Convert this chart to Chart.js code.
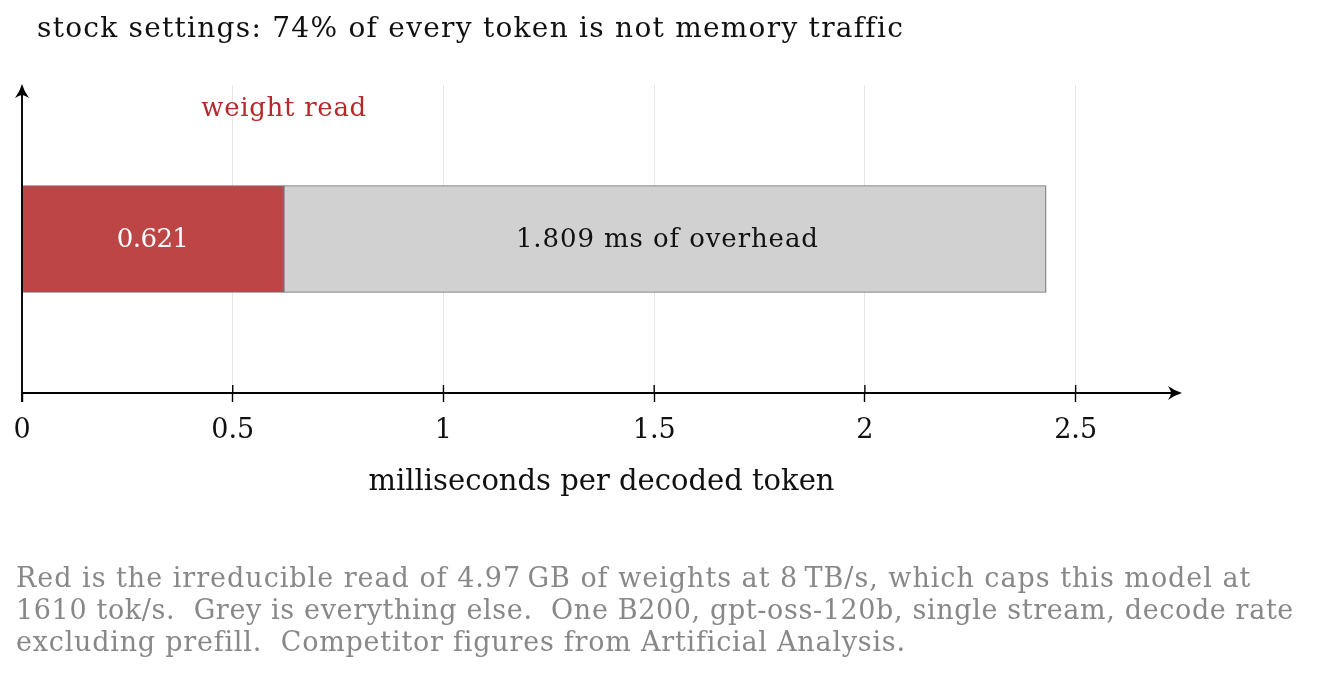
<!DOCTYPE html>
<html>
<head>
<meta charset="utf-8">
<script src="https://cdn.jsdelivr.net/npm/chart.js@4.4.1/dist/chart.umd.min.js"></script>
<style>
  html, body { margin: 0; padding: 0; background: #fff; }
  #wrap { position: relative; width: 1328px; height: 674px; overflow: hidden; }
  #chart { position: absolute; left: 0; top: 0; }
  .title { position: absolute; left: 37px; top: 11px; font: 28px "DejaVu Serif", serif; color: #111; white-space: nowrap; }
  .note { position: absolute; left: 16px; top: 562px; font: 27px/32px "DejaVu Serif", serif; color: #888; white-space: nowrap; }
  .note span, .title span { display: inline-block; }
</style>
</head>
<body>
<div id="wrap">
  <canvas id="chart" width="1328" height="674"></canvas>
  <div class="title"><span data-w="865">stock settings: 74% of every token is not memory traffic</span></div>
  <div class="note">
    <span data-w="1234">Red is the irreducible read of 4.97&#8201;GB of weights at 8&#8201;TB/s, which caps this model at</span><br>
    <span data-w="1277">1610 tok/s.&nbsp; Grey is everything else.&nbsp; One B200, gpt-oss-120b, single stream, decode rate</span><br>
    <span data-w="887">excluding prefill.&nbsp; Competitor figures from Artificial Analysis.</span>
  </div>
</div>
<script>
const categories = ['stock'];
const weightRead = [0.621];
const overhead = [1.809];
const tickValues = [0, 0.5, 1, 1.5, 2, 2.5];
const axisMax = 2.75;

const FONT = '"DejaVu Serif", serif';

// the reference typeface is wider than anything installed, so stretch with letter spacing
document.querySelectorAll('span[data-w]').forEach(el => {
  const w = el.getBoundingClientRect().width;
  const n = el.textContent.length - 1;
  el.style.letterSpacing = ((+el.dataset.w - w) / n).toFixed(2) + 'px';
});

function fitText(ctx, text, x, y, target) {
  ctx.letterSpacing = '0px';
  const w = ctx.measureText(text).width;
  const sp = (target - w) / (text.length - 1);
  ctx.letterSpacing = sp.toFixed(2) + 'px';
  ctx.fillText(text, x + sp / 2, y);
  ctx.letterSpacing = '0px';
}

// arrows on both axes, tick marks crossing the axis, and the text on the bars
const decor = {
  id: 'decor',
  afterDatasetsDraw(chart) {
    const { ctx, chartArea: a, scales: { x, y } } = chart;
    ctx.save();
    ctx.strokeStyle = '#000';
    ctx.fillStyle = '#000';
    ctx.lineWidth = 1.9;
    // x axis
    const tx = a.right + 1, ty = a.bottom;
    ctx.beginPath();
    ctx.moveTo(a.left, ty);
    ctx.lineTo(tx - 8, ty);
    ctx.stroke();
    ctx.beginPath();
    ctx.moveTo(tx, ty);
    ctx.quadraticCurveTo(tx - 7, ty - 2, tx - 14, ty - 7);
    ctx.quadraticCurveTo(tx - 11, ty - 2, tx - 11, ty);
    ctx.quadraticCurveTo(tx - 11, ty + 2, tx - 14, ty + 7);
    ctx.quadraticCurveTo(tx - 7, ty + 2, tx, ty);
    ctx.closePath();
    ctx.fill();
    // y axis
    const ux = a.left, uy = a.top - 1;
    ctx.beginPath();
    ctx.moveTo(ux, a.bottom + 9);
    ctx.lineTo(ux, uy + 8);
    ctx.stroke();
    ctx.beginPath();
    ctx.moveTo(ux, uy);
    ctx.quadraticCurveTo(ux - 2, uy + 7, ux - 7, uy + 14);
    ctx.quadraticCurveTo(ux - 2, uy + 11, ux, uy + 11);
    ctx.quadraticCurveTo(ux + 2, uy + 11, ux + 7, uy + 14);
    ctx.quadraticCurveTo(ux + 2, uy + 7, ux, uy);
    ctx.closePath();
    ctx.fill();
    // upper half of the tick marks
    ctx.lineWidth = 1.4;
    tickValues.forEach(v => {
      if (v === 0) return;
      const px = x.getPixelForValue(v);
      ctx.beginPath();
      ctx.moveTo(px, a.bottom - 8);
      ctx.lineTo(px, a.bottom);
      ctx.stroke();
    });

    // bar labels
    const yc = y.getPixelForValue(0);
    ctx.font = '26px ' + FONT;
    ctx.textAlign = 'center';
    ctx.textBaseline = 'middle';
    ctx.fillStyle = '#fff';
    fitText(ctx, weightRead[0].toFixed(3), x.getPixelForValue(weightRead[0] / 2), yc + 1, 72);
    ctx.fillStyle = '#111';
    fitText(ctx, overhead[0].toFixed(3) + ' ms of overhead',
      x.getPixelForValue(weightRead[0] + overhead[0] / 2) + 2, yc + 1, 302);

    // series name above the red segment
    ctx.fillStyle = '#b5292b';
    fitText(ctx, 'weight read', x.getPixelForValue(weightRead[0]), a.top + 24, 165);
    ctx.restore();
  }
};

new Chart(document.getElementById('chart'), {
  type: 'bar',
  data: {
    labels: categories,
    datasets: [
      {
        label: 'weight read',
        data: weightRead,
        backgroundColor: '#bd4545',
        borderColor: '#727272',
        borderWidth: 1.2,
        borderSkipped: false,
        barThickness: 107
      },
      {
        label: 'overhead',
        data: overhead,
        backgroundColor: '#d1d1d1',
        borderColor: '#727272',
        borderWidth: 1.2,
        borderSkipped: false,
        barThickness: 107
      }
    ]
  },
  options: {
    indexAxis: 'y',
    responsive: false,
    animation: false,
    events: [],
    layout: { padding: { left: 22, right: 147, top: 85, bottom: 174 } },
    scales: {
      x: {
        stacked: true,
        min: 0,
        max: axisMax,
        afterBuildTicks: (s) => { s.ticks = tickValues.map(v => ({ value: v })); },
        afterFit: (s) => { s.height = 107; },
        border: { display: false },
        grid: {
          color: (c) => (c.tick && c.tick.value === 0 ? 'rgba(0,0,0,0)' : '#e6e6e6'),
          tickColor: '#000',
          tickLength: 9,
          tickWidth: 1.4,
          lineWidth: 1,
          drawTicks: true
        },
        ticks: {
          color: '#111',
          font: { family: FONT, size: 27 },
          padding: 13,
          maxRotation: 0,
          callback: (v) => String(v)
        },
        title: {
          display: true,
          text: 'milliseconds per decoded token',
          color: '#111',
          font: { family: FONT, size: 29 },
          padding: { top: 0, bottom: 0 }
        }
      },
      y: {
        stacked: true,
        display: false
      }
    },
    plugins: {
      legend: { display: false },
      tooltip: { enabled: false },
      title: { display: false }
    }
  },
  plugins: [decor]
});
</script>
</body>
</html>
